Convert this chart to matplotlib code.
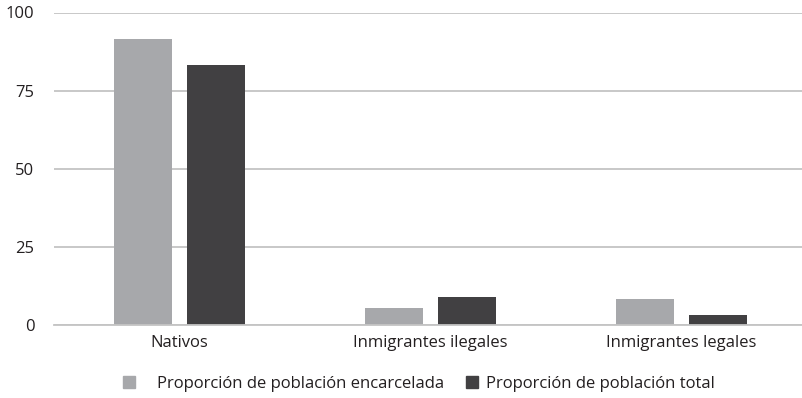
import numpy as np
import matplotlib.pyplot as plt
from matplotlib.patches import Patch

plt.rcParams['font.family'] = ['Open Sans', 'DejaVu Sans']

# Data
categories = ['Nativos', 'Inmigrantes ilegales', 'Inmigrantes legales']
encarcelada = [91.5, 5.4, 8.3]
total = [83.2, 9.1, 3.3]
series_labels = ['Proporción de población encarcelada', 'Proporción de población total']
yticks = [0, 25, 50, 75, 100]

col_light = '#a7a8ab'
col_dark = '#414042'
grid_col = '#c4c4c4'
txt_col = '#231f20'

fig = plt.figure(figsize=(8.02, 3.98), dpi=100)
ax = fig.add_axes([54 / 802, 73 / 398, 753 / 802, 312.5 / 398])

x = np.arange(len(categories))
w = 0.232
off = 0.144
ax.bar(x - off, encarcelada, width=w, color=col_light, zorder=3)
ax.bar(x + off, total, width=w, color=col_dark, zorder=3)

ax.set_xlim(-0.5, 2.5)
ax.set_ylim(0, 100)
ax.set_yticks(yticks)
ax.yaxis.grid(True, color=grid_col, linewidth=1.3, zorder=0)
ax.set_axisbelow(True)
for s in ['top', 'right', 'left']:
    ax.spines[s].set_visible(False)
ax.spines['bottom'].set_color(grid_col)
ax.spines['bottom'].set_linewidth(1.3)
ax.spines['bottom'].set_zorder(4)

ax.set_xticks(x)
ax.set_xticklabels(categories, fontsize=12)
ax.tick_params(axis='x', length=0, pad=7, colors=txt_col)
ax.tick_params(axis='y', length=0, pad=14, labelsize=12, colors=txt_col)

# two legend entries placed separately (different gaps in the original)
leg_y = 14 / 398
for h_col, lab, x0, gap in [(col_light, series_labels[0], 123, 1.3),
                            (col_dark, series_labels[1], 466, 0.45)]:
    leg = fig.legend([Patch(color=h_col)], [lab], loc='center left',
                     bbox_to_anchor=(x0 / 802, leg_y), frameon=False, fontsize=12,
                     handlelength=0.72, handleheight=0.72, handletextpad=gap,
                     borderpad=0, borderaxespad=0, labelcolor=txt_col)

fig.savefig('out.png', dpi=100)
